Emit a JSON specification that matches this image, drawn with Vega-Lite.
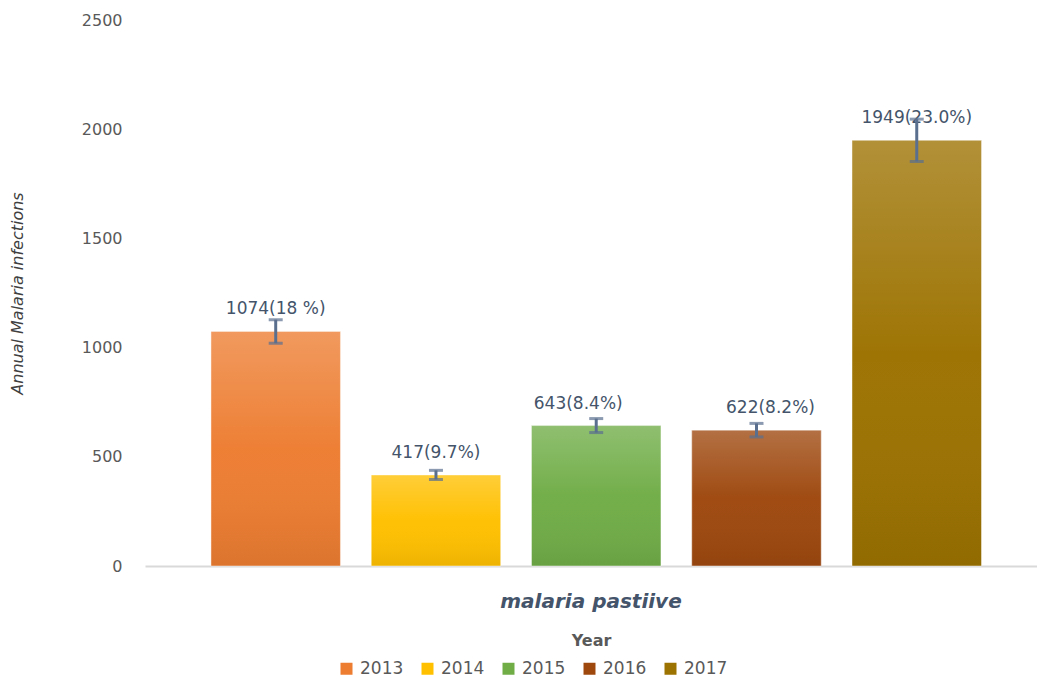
{
  "$schema": "https://vega.github.io/schema/vega-lite/v6.json",
  "autosize": {"type": "none"},
  "padding": {"left": 145, "top": 20, "right": 0, "bottom": 116},
  "width": 892,
  "height": 546,
  "background": "white",
  "config": {
    "font": "DejaVu Sans",
    "view": {"stroke": null}
  },
  "data": {
    "values": [
      {"Category": "malaria pastiive", "Year": "2013", "Infections": 1074, "Low": 1020, "High": 1128, "Label": "1074(18 %)"},
      {"Category": "malaria pastiive", "Year": "2014", "Infections": 417, "Low": 396, "High": 438, "Label": "417(9.7%)"},
      {"Category": "malaria pastiive", "Year": "2015", "Infections": 643, "Low": 611, "High": 675, "Label": "643(8.4%)"},
      {"Category": "malaria pastiive", "Year": "2016", "Infections": 622, "Low": 591, "High": 653, "Label": "622(8.2%)"},
      {"Category": "malaria pastiive", "Year": "2017", "Infections": 1949, "Low": 1852, "High": 2046, "Label": "1949(23.0%)"}
    ]
  },
  "encoding": {
    "x": {
      "field": "Category", "type": "nominal",
      "scale": {"paddingInner": 0, "paddingOuter": 0},
      "axis": {
        "title": "Year", "titleFontSize": 16, "titleFontWeight": "bold", "titleColor": "#595959", "titlePadding": 21,
        "labelFontSize": 20, "labelFontWeight": "bold", "labelFontStyle": "italic", "labelColor": "#44546A",
        "labelPadding": 25, "labelAngle": 0, "labelLimit": 0, "ticks": false, "domainColor": "#D9D9D9", "domainWidth": 2, "grid": false
      }
    },
    "xOffset": {
      "field": "Year", "type": "nominal",
      "scale": {"paddingInner": 0.192, "paddingOuter": 0.379, "align": 0.543}
    },
    "y": {
      "field": "Infections", "type": "quantitative",
      "scale": {"domain": [0, 2500], "nice": false},
      "axis": {
        "title": "Annual Malaria infections", "titleFontSize": 16, "titleFontWeight": "normal", "titleFontStyle": "italic",
        "titleColor": "#404040", "titlePadding": 56,
        "values": [0, 500, 1000, 1500, 2000, 2500], "format": "d",
        "labelFontSize": 16, "labelColor": "#595959", "labelPadding": 23,
        "ticks": false, "domain": false, "grid": false
      }
    }
  },
  "layer": [
    {
      "mark": {"type": "bar"},
      "encoding": {
        "color": {
          "field": "Year", "type": "nominal",
          "scale": {"domain": ["2013", "2014", "2015", "2016", "2017"], "range": ["#ED7D31", "#FFC000", "#70AD47", "#9E480E", "#9C7200"]},
          "legend": {
            "orient": "none", "legendX": 193, "legendY": 640, "direction": "horizontal", "title": null,
            "symbolType": "square", "symbolSize": 144, "symbolStrokeWidth": 0, "symbolOpacity": 1,
            "labelFontSize": 17, "labelColor": "#595959", "labelOffset": 5, "columnPadding": 15
          }
        }
      }
    },
    {
      "mark": {
        "type": "bar",
        "stroke": "#ffffff", "strokeOpacity": 0.45, "strokeWidth": 1,
        "color": {
          "gradient": "linear", "x1": 0, "y1": 0, "x2": 0, "y2": 1,
          "stops": [
            {"offset": 0, "color": "rgba(255,255,255,0.22)"},
            {"offset": 0.5, "color": "rgba(255,255,255,0.02)"},
            {"offset": 1, "color": "rgba(0,0,0,0.07)"}
          ]
        }
      }
    },
    {
      "transform": [{"filter": "datum.Year != '2015' && datum.Year != '2016'"}],
      "mark": {"type": "text", "dy": -22, "fontSize": 17, "color": "#44546A"},
      "encoding": {"text": {"field": "Label"}}
    },
    {
      "transform": [{"filter": "datum.Year == '2015'"}],
      "mark": {"type": "text", "dy": -22, "dx": -18, "fontSize": 17, "color": "#44546A"},
      "encoding": {"text": {"field": "Label"}}
    },
    {
      "transform": [{"filter": "datum.Year == '2016'"}],
      "mark": {"type": "text", "dy": -22, "dx": 14, "fontSize": 17, "color": "#44546A"},
      "encoding": {"text": {"field": "Label"}}
    },
    {
      "mark": {"type": "rule", "color": "#5A6F8E", "strokeWidth": 3},
      "encoding": {"y": {"field": "Low", "type": "quantitative"}, "y2": {"field": "High"}}
    },
    {
      "mark": {"type": "tick", "color": "#5A6F8E", "size": 14, "thickness": 3, "orient": "horizontal"},
      "encoding": {"y": {"field": "Low", "type": "quantitative"}}
    },
    {
      "mark": {"type": "tick", "color": "#5A6F8E", "size": 14, "thickness": 3, "orient": "horizontal"},
      "encoding": {"y": {"field": "High", "type": "quantitative"}}
    }
  ]
}
